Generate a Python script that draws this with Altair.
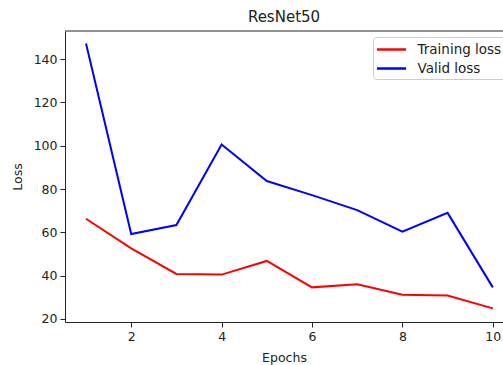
import altair as alt
import pandas as pd

epochs = [1, 2, 3, 4, 5, 6, 7, 8, 9, 10]
training_loss = [66.3, 52.6, 40.8, 40.5, 46.8, 34.6, 36.0, 31.2, 30.8, 24.9]
valid_loss = [147.2, 59.2, 63.4, 100.6, 83.7, 77.2, 70.3, 60.3, 69.0, 34.6]
series_names = ["Training loss", "Valid loss"]
series_colors = ["#ff0000", "#0000ff"]
x_ticks = [2, 4, 6, 8, 10]
y_ticks = [20, 40, 60, 80, 100, 120, 140]

rows = []
for e, t, v in zip(epochs, training_loss, valid_loss):
    rows.append({"Epochs": e, "Loss": t, "series": series_names[0]})
    rows.append({"Epochs": e, "Loss": v, "series": series_names[1]})
df = pd.DataFrame(rows)

FONT = "DejaVu Sans"
W, H = 438, 291

lines = alt.Chart(df).mark_line(strokeWidth=2, clip=True).encode(
    x=alt.X("Epochs:Q",
            scale=alt.Scale(domain=[0.535, 10.226], nice=False, zero=False),
            axis=alt.Axis(values=x_ticks, format="d", title="Epochs", grid=False,
                          tickSize=5, labelPadding=3, titlePadding=9)),
    y=alt.Y("Loss:Q",
            scale=alt.Scale(domain=[18.6, 153], nice=False, zero=False),
            axis=alt.Axis(values=y_ticks, format="d", title="Loss", grid=False,
                          tickSize=5, labelPadding=3, titlePadding=9)),
    color=alt.Color("series:N",
                    scale=alt.Scale(domain=series_names, range=series_colors),
                    legend=alt.Legend(title=None, orient="none", legendX=308, legendY=6,
                                      symbolType="M-2,0H2", symbolSize=210,
                                      symbolStrokeWidth=2.5, symbolOffset=6,
                                      labelOffset=17.5,
                                      fillColor="white", strokeColor="#cccccc",
                                      cornerRadius=3, padding=4, rowPadding=4,
                                      labelFontSize=13.5, labelFont=FONT,
                                      labelColor="#222222")),
    detail="series:N",
)

top_border = alt.Chart(pd.DataFrame({"a": [0]})).mark_rule(color="#222222", strokeWidth=1).encode(
    x=alt.value(0), x2=alt.value(W), y=alt.value(0)
)

chart = alt.layer(lines, top_border).properties(
    width=W, height=H,
    title=alt.Title("ResNet50", fontSize=15, font=FONT, fontWeight="normal",
                    color="#222222", anchor="middle", offset=6),
    autosize=alt.AutoSizeParams(type="none"),
    padding={"left": 65, "top": 31, "right": 0, "bottom": 43},
).configure_view(stroke=None).configure_axis(
    labelFont=FONT, titleFont=FONT, labelFontSize=12.5, titleFontSize=12.5,
    labelColor="#222222", titleColor="#222222", titleFontWeight="normal",
    domainColor="#222222", tickColor="#222222", domainWidth=1, tickWidth=1,
)

chart.save("out.html", embed_options={"renderer": "svg", "actions": False})
